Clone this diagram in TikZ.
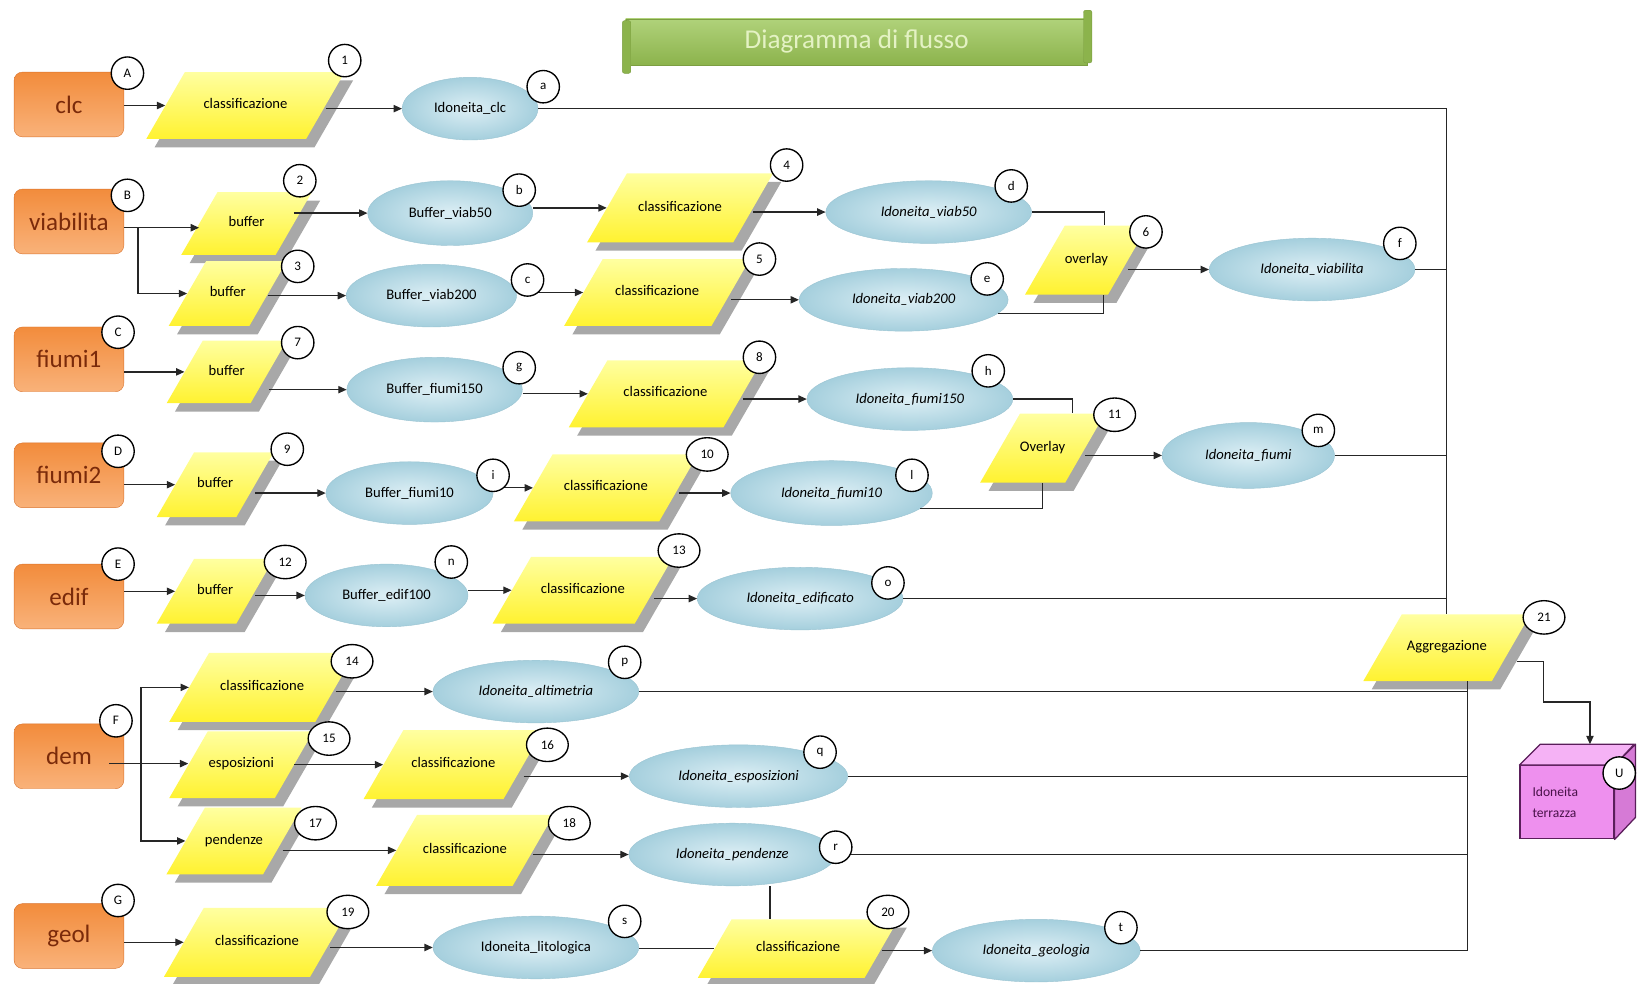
\documentclass[tikz,border=0pt]{standalone}
\usepackage{fontspec}
\setmainfont{Carlito}
\usetikzlibrary{shapes.geometric,shadows,arrows.meta}

\definecolor{srctop}{HTML}{F28C3C}
\definecolor{srcbot}{HTML}{F9B27A}
\definecolor{srcline}{HTML}{D9732E}
\definecolor{srctext}{HTML}{7A2A0A}
\definecolor{proctop}{HTML}{FFFFA0}
\definecolor{procbot}{HTML}{FFF230}
\definecolor{procshade}{HTML}{A8A8A8}
\definecolor{datain}{HTML}{DDEFF5}
\definecolor{dataout}{HTML}{A5CFDD}
\definecolor{dataline}{HTML}{9BC4D2}
\definecolor{bantop}{HTML}{B0D27A}
\definecolor{banbot}{HTML}{8CB34C}
\definecolor{banline}{HTML}{7C9E42}
\definecolor{bantext}{HTML}{E4F2C4}
\definecolor{cubefront}{HTML}{EE90EE}
\definecolor{cubetop}{HTML}{F5B2F5}
\definecolor{cubeside}{HTML}{D67AD6}
\definecolor{cubeline}{HTML}{5A1E5A}
\definecolor{cubetext}{HTML}{4A124A}

\newcommand\lblfont{\fontsize{14}{16}\selectfont}
\newcommand\tagfnt{\fontsize{12.5}{14}\selectfont}

\begin{document}
\begin{tikzpicture}[x=1pt, y=-1pt,
srcnode/.style={rectangle, rounded corners=8pt, draw=srcline, top color=srctop, bottom color=srcbot, minimum width=105pt, minimum height=62pt, text=srctext, font=\fontsize{24}{28}\selectfont},
procnode/.style={trapezium, trapezium left angle=60, trapezium right angle=120, trapezium stretches body, top color=proctop, bottom color=procbot, drop shadow={shadow xshift=8pt, shadow yshift=-8pt, fill=procshade, opacity=1}, text height=10pt, text depth=4pt, inner xsep=0pt, inner ysep=25pt, font=\lblfont},
datanode/.style={ellipse, draw=dataline, inner color=datain, outer color=dataout, minimum width=197pt, minimum height=60pt, inner sep=0pt, font=\lblfont},
resnode/.style={datanode, font=\lblfont\itshape},
tagnode/.style={circle, draw=black, line width=1.3pt, fill=white, minimum size=31pt, inner sep=0pt, font=\tagfnt},
tagwide/.style={tagnode, ellipse, minimum width=40pt, minimum height=32pt},
titlenode/.style={rectangle, draw=banline, top color=bantop, bottom color=banbot, minimum width=442pt, minimum height=44pt, text=bantext, font=\fontsize{26}{30}\selectfont},
wire/.style={line width=1.2pt, draw=black!85},
wirearrow/.style={wire, -{Triangle[length=8pt,width=7pt]}}
]
\useasboundingbox (0,0) rectangle (1568,941);

    % title banner
    \node [titlenode] (title) at (820,40) {Diagramma di flusso};
    \filldraw [draw=banline, fill=banbot, rounded corners=2pt] ([xshift=-3pt,yshift=-2pt]title.north west) rectangle ([xshift=5pt,yshift=-8pt]title.south west);
    \filldraw [draw=banline, fill=banbot, rounded corners=2pt] ([xshift=-4pt,yshift=8pt]title.north east) rectangle ([xshift=4pt,yshift=2pt]title.south east);

    % input layers
    \node [srcnode] (clc) at (66,100) {clc};
    \node [srcnode] (viab) at (66,212) {viabilita};
    \node [srcnode] (fiumi1) at (66,344) {fiumi1};
    \node [srcnode] (fiumi2) at (66,455) {fiumi2};
    \node [srcnode] (edif) at (66,571) {edif};
    \node [srcnode] (dem) at (66,724) {dem};
    \node [srcnode] (geol) at (66,896) {geol};

    % operations
    \node [procnode, minimum width=190pt] (p1) at (235,101) {classificazione};
    \node [procnode, minimum width=125pt, inner ysep=23pt] (p2) at (236,214) {buffer};
    \node [procnode, minimum width=113pt, inner ysep=24pt] (p3) at (218,281) {buffer};
    \node [procnode, minimum width=178pt, inner ysep=26pt] (p4) at (651,199) {classificazione};
    \node [procnode, minimum width=178pt] (p5) at (629,280) {classificazione};
    \node [procnode, minimum width=110pt, inner ysep=26pt] (p6) at (1040,249) {overlay};
    \node [procnode, minimum width=115pt, inner ysep=23pt] (p7) at (217,356) {buffer};
    \node [procnode, minimum width=185pt] (p8) at (637,377) {classificazione};
    \node [procnode, minimum width=112pt, inner ysep=24pt] (p9) at (206,464) {buffer};
    \node [procnode, minimum width=176pt] (p10) at (580,467) {classificazione};
    \node [procnode, minimum width=117pt, inner ysep=26pt] (p11) at (998,429) {Overlay};
    \node [procnode, minimum width=112pt, inner ysep=24pt] (p12) at (206,566) {buffer};
    \node [procnode, minimum width=173pt] (p13) at (558,565) {classificazione};
    \node [procnode, minimum width=178pt, inner ysep=26pt] (p14) at (251,658) {classificazione};
    \node [procnode, minimum width=138pt] (p15) at (231,732) {esposizioni};
    \node [procnode, minimum width=172pt, inner ysep=26pt] (p16) at (434,732) {classificazione};
    \node [procnode, minimum width=123pt] (p17) at (224,805) {pendenze};
    \node [procnode, minimum width=170pt, inner ysep=27pt] (p18) at (445,814) {classificazione};
    \node [procnode, minimum width=178pt, inner ysep=26pt] (p19) at (246,902) {classificazione};
    \node [procnode, minimum width=192pt, inner ysep=21pt] (p20) at (764,908) {classificazione};
    \node [procnode, minimum width=160pt] (p21) at (1385,620) {Aggregazione};

    % data
    \node [datanode, minimum width=130pt] (da) at (450,104) {Idoneita\_clc};
    \node [datanode, minimum width=158pt, minimum height=62pt] (db) at (431,204) {Buffer\_viab50};
    \node [datanode, minimum width=163pt] (dc) at (413,283) {Buffer\_viab200};
    \node [resnode] (dd) at (889,203) {Idoneita\_viab50};
    \node [resnode, minimum width=200pt] (de) at (865,287) {Idoneita\_viab200};
    \node [resnode] (df) at (1256,258) {Idoneita\_viabilita};
    \node [datanode, minimum width=168pt, minimum height=62pt] (dg) at (416,373) {Buffer\_fiumi150};
    \node [resnode] (dh) at (871,382) {Idoneita\_fiumi150};
    \node [datanode, minimum width=160pt] (di) at (392,472) {Buffer\_fiumi10};
    \node [resnode, minimum width=193pt, minimum height=62pt] (dl) at (796,472) {Idoneita\_fiumi10};
    \node [resnode, minimum width=165pt, minimum height=63pt] (dm) at (1195,436) {Idoneita\_fiumi};
    \node [datanode, minimum width=156pt] (dn) at (370,570) {Buffer\_edif100};
    \node [resnode] (do) at (766,573) {Idoneita\_edificato};
    \node [resnode] (dp) at (513,662) {Idoneita\_altimetria};
    \node [resnode, minimum width=209pt] (dq) at (707,743) {Idoneita\_esposizioni};
    \node [resnode, minimum width=198pt] (dr) at (701,818) {Idoneita\_pendenze};
    \node [datanode] (ds) at (513,907) {Idoneita\_litologica};
    \node [resnode, minimum width=199pt] (dt) at (992,910) {Idoneita\_geologia};

    % clc
    \draw [wirearrow] (p1.west -| clc.east) -- (p1.west);
    \draw [wirearrow] (da.west -| p1.east) -- (da.west);
    \draw [wire] (da.east) -| (p21.north);
    % viabilita
    \coordinate (vj) at (132,218);
    \draw [wire] (viab.east |- vj) -- (vj);
    \draw [wirearrow] (vj) -- (vj -| p2.west);
    \draw [wirearrow] (vj) |- (p3.west);
    \draw [wirearrow] (db.west -| p2.east) -- (db.west);
    \draw [wirearrow] (p4.west -| db.east) -- (p4.west);
    \draw [wirearrow] (dd.west -| p4.east) -- (dd.west);
    \draw [wire] (dd.east) -| ([xshift=17pt]p6.north);
    \draw [wirearrow] (dc.west -| p3.east) -- (dc.west);
    \draw [wirearrow] (p5.west -| dc.east) -- (p5.west);
    \draw [wirearrow] (de.west -| p5.east) -- (de.west);
    \draw [wire] (de.-8) -| ([xshift=16pt]p6.south);
    \draw [wirearrow] (df.west -| p6.east) -- (df.west);
    \draw [wire] (df.east) -- (df.east -| p21.north);
    % fiumi1
    \draw [wirearrow] (p7.west -| fiumi1.east) -- (p7.west);
    \draw [wirearrow] (dg.west -| p7.east) -- (dg.west);
    \draw [wirearrow] (p8.west -| dg.east) -- (p8.west);
    \draw [wirearrow] (dh.west -| p8.east) -- (dh.west);
    \draw [wire] (dh.east) -| ([xshift=29pt]p11.north);
    \draw [wirearrow] (dm.west -| p11.east) -- (dm.west);
    \draw [wire] (dm.east) -- (dm.east -| p21.north);
    % fiumi2
    \draw [wirearrow] (p9.west -| fiumi2.east) -- (p9.west);
    \draw [wirearrow] (di.west -| p9.east) -- (di.west);
    \draw [wirearrow] (p10.west -| di.east) -- (p10.west);
    \draw [wirearrow] (dl.west -| p10.east) -- (dl.west);
    \draw [wire] (dl.-10) -| (p11.south);
    % edif
    \draw [wirearrow] (p12.west -| edif.east) -- (p12.west);
    \draw [wirearrow] (dn.west -| p12.east) -- (dn.west);
    \draw [wirearrow] (p13.west -| dn.east) -- (p13.west);
    \draw [wirearrow] (do.west -| p13.east) -- (do.west);
    \draw [wire] (do.east) -- (do.east -| p21.north);
    % dem
    \coordinate (aggin) at ([xshift=20pt]p21.south);
    \coordinate (dj) at (135,731);
    \draw [wire] (dem.east |- dj) ++(-14,0) -- (dj);
    \draw [wirearrow] (dj) |- (p14.west);
    \draw [wirearrow] (dj) -- (dj -| p15.west);
    \draw [wirearrow] (dj) |- (p17.west);
    \draw [wirearrow] (dp.west -| p14.east) -- (dp.west);
    \draw [wire] (dp.east) -- (dp.east -| aggin);
    \draw [wirearrow] (p16.west -| p15.east) -- (p16.west);
    \draw [wirearrow] (dq.west -| p16.east) -- (dq.west);
    \draw [wire] (dq.east) -- (dq.east -| aggin);
    \draw [wirearrow] (p18.west -| p17.east) -- (p18.west);
    \draw [wirearrow] (dr.west -| p18.east) -- (dr.west);
    \draw [wire] (dr.east) -- (dr.east -| aggin);
    \coordinate (rdown) at ([xshift=36pt]dr.south);
    \draw [wire] (rdown) -- (rdown |- p20.north);
    % geol
    \draw [wirearrow] (p19.west -| geol.east) -- (p19.west);
    \draw [wirearrow] (ds.west -| p19.east) -- (ds.west);
    \draw [wire] (p20.west -| ds.east) -- (p20.west);
    \draw [wirearrow] (dt.west -| p20.east) -- (dt.west);
    \draw [wire] (dt.east) -| (aggin);

    % result
    \node [rectangle, draw=cubeline, line width=1.2pt, fill=cubefront, minimum width=90pt, minimum height=70pt, text width=66pt, align=left, text=cubetext, font=\fontsize{13}{20}\selectfont] (terr) at (1500,768) {Idoneita\\terrazza};
    \filldraw [draw=cubeline, line width=1.2pt, fill=cubetop, line join=round] (terr.north west) -- ++(20,-20) -- ++(90,0) -- (terr.north east) -- cycle;
    \filldraw [draw=cubeline, line width=1.2pt, fill=cubeside, line join=round] (terr.north east) -- ++(20,-20) -- ++(0,70) -- (terr.south east) -- cycle;
    \coordinate (terrtop) at ([xshift=22pt,yshift=20pt]terr.north);
    \draw [wirearrow] ([xshift=5pt,yshift=-13pt]p21.east) -- ++(26,0) -- ++(0,39) -| (terrtop);

    % tags
    \node [tagnode] (tA) at (122,70) {A};
    \node [tagnode] (tB) at (122,187) {B};
    \node [tagnode] (tC) at (113,318) {C};
    \node [tagnode] (tD) at (113,432) {D};
    \node [tagnode] (tE) at (113,540) {E};
    \node [tagnode] (tF) at (111,690) {F};
    \node [tagnode] (tG) at (113,862) {G};
    \node [tagnode] (t1) at (330,58) {1};
    \node [tagnode] (t2) at (287,173) {2};
    \node [tagnode] (t3) at (285,255) {3};
    \node [tagnode] (t4) at (753,158) {4};
    \node [tagnode] (t5) at (727,248) {5};
    \node [tagnode] (t6) at (1097,222) {6};
    \node [tagnode] (t7) at (285,328) {7};
    \node [tagnode] (t8) at (727,342) {8};
    \node [tagnode] (t9) at (275,430) {9};
    \node [tagwide] (t10) at (677,435) {10};
    \node [tagwide] (t11) at (1067,397) {11};
    \node [tagwide] (t12) at (273,538) {12};
    \node [tagwide] (t13) at (650,527) {13};
    \node [tagwide] (t14) at (337,633) {14};
    \node [tagwide] (t15) at (315,707) {15};
    \node [tagwide] (t16) at (524,713) {16};
    \node [tagwide] (t17) at (302,788) {17};
    \node [tagwide] (t18) at (545,788) {18};
    \node [tagwide] (t19) at (333,873) {19};
    \node [tagwide] (t20) at (850,873) {20};
    \node [tagwide] (t21) at (1478,591) {21};
    \node [tagnode] (ta) at (520,83) {a};
    \node [tagnode] (tb) at (497,182) {b};
    \node [tagnode] (tc) at (505,268) {c};
    \node [tagnode] (td) at (968,178) {d};
    \node [tagnode] (te) at (945,267) {e};
    \node [tagnode] (tf) at (1340,233) {f};
    \node [tagnode] (tg) at (497,352) {g};
    \node [tagnode] (th) at (946,355) {h};
    \node [tagnode] (ti) at (472,455) {i};
    \node [tagnode] (tl) at (873,455) {l};
    \node [tagnode] (tm) at (1262,412) {m};
    \node [tagnode] (tn) at (432,538) {n};
    \node [tagnode] (to) at (850,558) {o};
    \node [tagnode] (tp) at (598,634) {p};
    \node [tagnode] (tq) at (785,720) {q};
    \node [tagnode] (tr) at (800,811) {r};
    \node [tagnode] (ts) at (598,882) {s};
    \node [tagnode] (tt) at (1073,888) {t};
    \node [tagnode] (tU) at (1550,740) {U};

\end{tikzpicture}
\end{document}
